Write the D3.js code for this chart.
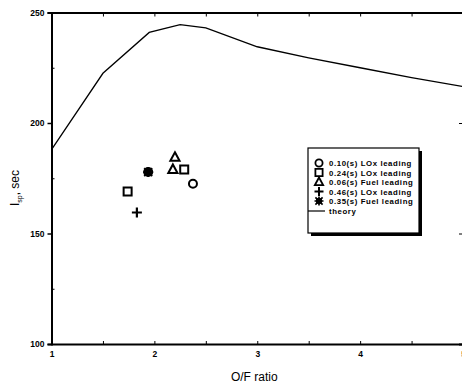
<!DOCTYPE html>
<html>
<head>
<meta charset="utf-8">
<script src="https://cdn.jsdelivr.net/npm/d3@7"></script>
<style>
  body { margin: 0; background: #fff; }
  svg { display: block; }
  text { font-family: "Liberation Sans", Arial, sans-serif; fill: #000; }
</style>
</head>
<body>
<div id="chart"></div>
<script>
// theory curve (O/F ratio, Isp)
const theoryOF  = [1, 1.5, 1.95, 2.25, 2.5, 3, 3.5, 4, 4.5, 5];
const theoryIsp = [188, 222.5, 241, 244.5, 243, 234.5, 229.5, 225, 220.5, 216.5];

// test series
const seriesNames = ["0.10(s) LOx leading", "0.24(s) LOx leading", "0.06(s) Fuel leading", "0.46(s) LOx leading", "0.35(s) Fuel leading"];
const seriesShapes = ["circle", "square", "triangle", "plus", "asterisk"];
const seriesOF  = [[2.375, 1.94], [1.74, 2.29], [2.2, 2.18], [1.83], [1.94]];
const seriesIsp = [[172.5, 177.8], [169, 179], [184.5, 179], [159.5], [177.8]];

const xTicks = [1, 2, 3, 4, 5];
const yTicks = [100, 150, 200, 250];

const width = 462, height = 386;
const margin = {top: 12.5, right: -1, bottom: 42, left: 51.5};

const svg = d3.select("#chart").append("svg")
    .attr("width", width)
    .attr("height", height);

const x = d3.scaleLinear().domain([1, 5]).range([margin.left, width - margin.right]);
const y = d3.scaleLinear().domain([100, 250]).range([height - margin.bottom, margin.top]);

// symbol paths
function shapePath(type) {
    if (type === "circle") return "M4,0A4,4 0 1,1 -4,0A4,4 0 1,1 4,0Z";
    if (type === "square") return "M-4,-4H4V4H-4Z";
    if (type === "triangle") return "M0,-5L4.6,3.5H-4.6Z";
    if (type === "plus") return "M-5,0H5M0,-5V5";
    return "M-5,0H5M0,-5V5M-4,-4L4,4M-4,4L4,-4";
}

function drawShape(g, type) {
    if (type === "asterisk") {
        g.append("circle").attr("r", 3.5).attr("fill", "#000");
        g.append("path").attr("d", shapePath(type))
            .attr("stroke", "#000").attr("stroke-width", 1.8).attr("fill", "none");
    } else if (type === "plus") {
        g.append("path").attr("d", shapePath(type))
            .attr("stroke", "#000").attr("stroke-width", 2.2).attr("fill", "none");
    } else {
        g.append("path").attr("d", shapePath(type))
            .attr("stroke", "#000").attr("stroke-width", 2).attr("fill", "none");
    }
}

// axes
const minorY = [125, 175, 225];
const minorX = [1.5, 2.5, 3.5, 4.5];

svg.append("g")
    .attr("transform", "translate(" + margin.left + ",0)")
    .call(d3.axisLeft(y).tickValues(yTicks).tickSize(4).tickPadding(3).tickFormat(d3.format("d")))
    .call(g => g.select(".domain").attr("stroke-width", 2))
    .call(g => g.selectAll(".tick line").attr("stroke-width", 1.5))
    .call(g => g.selectAll(".tick text").attr("font-size", 8.5).attr("font-weight", "bold"));

svg.append("g")
    .attr("transform", "translate(" + margin.left + ",0)")
    .call(d3.axisRight(y).tickValues(minorY).tickSize(3).tickFormat(""))
    .call(g => g.select(".domain").remove());

svg.append("g")
    .attr("transform", "translate(" + (width - margin.right) + ",0)")
    .call(d3.axisLeft(y).tickValues(yTicks).tickSize(4).tickFormat(""))
    .call(g => g.select(".domain").attr("stroke-width", 2));

svg.append("g")
    .attr("transform", "translate(0," + y(100) + ")")
    .call(d3.axisTop(x).tickValues(xTicks.concat(minorX)).tickSize(3).tickFormat(""))
    .call(g => g.select(".domain").attr("stroke-width", 2));

svg.append("g")
    .attr("transform", "translate(0," + y(100) + ")")
    .call(d3.axisBottom(x).tickValues(xTicks).tickSize(0).tickPadding(7).tickFormat(d3.format("d")))
    .call(g => g.select(".domain").remove())
    .call(g => g.selectAll(".tick text").attr("font-size", 8.5).attr("font-weight", "bold"));

svg.append("g")
    .attr("transform", "translate(0," + y(250) + ")")
    .call(d3.axisBottom(x).tickValues(xTicks.concat(minorX)).tickSize(4).tickFormat(""))
    .call(g => g.select(".domain").attr("stroke-width", 2));

// axis titles
svg.append("text")
    .attr("x", (x(1) + x(5)) / 2 - 3)
    .attr("y", 381)
    .attr("text-anchor", "middle")
    .attr("font-size", 12)
    .text("O/F ratio");

const yTitle = svg.append("text")
    .attr("transform", "translate(19," + 188 + ") rotate(-90)")
    .attr("text-anchor", "middle")
    .attr("font-size", 12);
yTitle.append("tspan").text("I");
yTitle.append("tspan").attr("font-size", 7).attr("dy", 3).text("sp");
yTitle.append("tspan").attr("dy", -3).text(", sec");

// theory line
const theory = theoryOF.map((d, i) => ({of: d, isp: theoryIsp[i]}));
svg.append("path")
    .datum(theory)
    .attr("fill", "none")
    .attr("stroke", "#000")
    .attr("stroke-width", 1.3)
    .attr("d", d3.line().x(d => x(d.of)).y(d => y(d.isp)));

// data points
seriesNames.forEach(function (name, s) {
    seriesOF[s].forEach(function (v, i) {
        const g = svg.append("g")
            .attr("transform", "translate(" + x(v) + "," + y(seriesIsp[s][i]) + ")");
        drawShape(g, seriesShapes[s]);
    });
});

// legend
const lg = svg.append("g").attr("transform", "translate(308,148)");
lg.append("rect").attr("x", 3).attr("y", 3).attr("width", 111).attr("height", 85).attr("fill", "#000");
lg.append("rect").attr("width", 111).attr("height", 85).attr("fill", "#fff")
    .attr("stroke", "#000").attr("stroke-width", 1.2);

seriesNames.forEach(function (name, s) {
    const row = lg.append("g").attr("transform", "translate(11," + (15 + s * 9.5) + ")");
    const sym = row.append("g").attr("transform", "scale(0.9)");
    drawShape(sym, seriesShapes[s]);
    row.append("text")
        .attr("x", 10)
        .attr("y", 3)
        .attr("font-size", 7.8)
        .attr("font-weight", "bold")
        .attr("letter-spacing", 0.6)
        .text(name);
});
lg.append("line").attr("x1", 0).attr("x2", 17).attr("y1", 63).attr("y2", 63)
    .attr("stroke", "#000").attr("stroke-width", 1.2);
lg.append("text").attr("x", 21).attr("y", 65.5)
    .attr("font-size", 7.8).attr("font-weight", "bold").attr("letter-spacing", 0.6)
    .text("theory");
</script>
</body>
</html>
